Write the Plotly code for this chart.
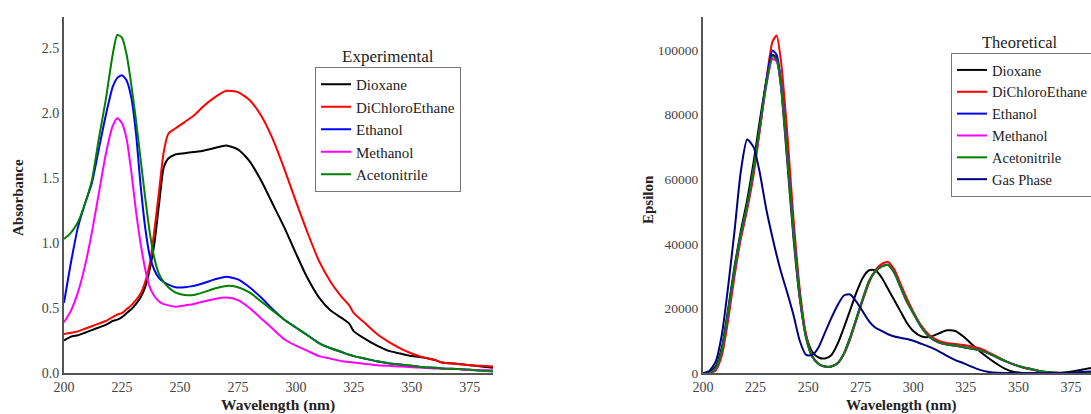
import plotly.graph_objects as go
from plotly.subplots import make_subplots

# ---------------- Experimental (left) ----------------
wl_exp = [200, 203, 206, 209, 212, 215, 218, 221, 223, 225, 227, 229, 231, 233, 235, 237, 239, 241, 243, 245,
          248, 252, 256, 260, 265, 270, 275, 280, 285, 290, 295, 300, 305, 310, 315, 320, 323, 325, 330, 335,
          340, 345, 350, 355, 360, 363, 370, 375, 380, 385]

exp_dioxane = [0.25, 0.28, 0.29, 0.31, 0.33, 0.35, 0.37, 0.40, 0.41, 0.43, 0.46, 0.49, 0.53, 0.58, 0.66, 0.80, 1.00, 1.30, 1.58, 1.65,
               1.68, 1.69, 1.70, 1.71, 1.73, 1.75, 1.72, 1.63, 1.48, 1.30, 1.12, 0.92, 0.73, 0.58, 0.48, 0.42, 0.38, 0.32, 0.26, 0.21,
               0.17, 0.15, 0.13, 0.12, 0.10, 0.08, 0.07, 0.06, 0.05, 0.04]
exp_dce = [0.30, 0.31, 0.32, 0.34, 0.36, 0.38, 0.40, 0.43, 0.45, 0.46, 0.49, 0.52, 0.56, 0.61, 0.70, 0.84, 1.10, 1.40, 1.70, 1.84,
           1.88, 1.93, 1.98, 2.05, 2.12, 2.17, 2.16, 2.10, 1.98, 1.80, 1.57, 1.32, 1.08, 0.86, 0.70, 0.58, 0.52, 0.46, 0.38, 0.30,
           0.24, 0.19, 0.15, 0.12, 0.10, 0.08, 0.07, 0.06, 0.055, 0.05]
exp_ethanol = [0.54, 0.85, 1.12, 1.30, 1.46, 1.72, 1.98, 2.20, 2.27, 2.29, 2.25, 2.12, 1.85, 1.45, 1.12, 0.90, 0.79, 0.73, 0.70, 0.68,
               0.66, 0.66, 0.67, 0.69, 0.72, 0.74, 0.72, 0.66, 0.58, 0.49, 0.41, 0.35, 0.29, 0.23, 0.19, 0.16, 0.14, 0.13, 0.11, 0.09,
               0.075, 0.065, 0.055, 0.045, 0.04, 0.035, 0.03, 0.025, 0.02, 0.018]
exp_methanol = [0.39, 0.48, 0.62, 0.82, 1.08, 1.38, 1.68, 1.90, 1.96, 1.92, 1.80, 1.55, 1.25, 1.00, 0.80, 0.66, 0.59, 0.55, 0.53, 0.52,
                0.51, 0.52, 0.53, 0.55, 0.57, 0.58, 0.56, 0.50, 0.42, 0.34, 0.26, 0.21, 0.17, 0.13, 0.11, 0.09, 0.085, 0.08, 0.07, 0.06,
                0.055, 0.05, 0.045, 0.04, 0.035, 0.033, 0.03, 0.025, 0.022, 0.02]
exp_acetonitrile = [1.03, 1.08, 1.16, 1.30, 1.48, 1.80, 2.10, 2.45, 2.60, 2.58, 2.45, 2.22, 1.95, 1.65, 1.35, 1.08, 0.88, 0.76, 0.70, 0.66,
                    0.62, 0.60, 0.60, 0.62, 0.65, 0.67, 0.66, 0.62, 0.55, 0.48, 0.41, 0.35, 0.29, 0.23, 0.19, 0.16, 0.14, 0.13, 0.11, 0.09,
                    0.075, 0.065, 0.055, 0.045, 0.04, 0.035, 0.03, 0.025, 0.018, 0.012]

# ---------------- Theoretical (right) ----------------
wl_th = [200, 203, 206, 209, 212, 215, 218, 221, 224, 227, 230, 233, 235, 237, 240, 243, 246, 249, 252, 255,
         258, 261, 264, 267, 270, 273, 276, 279, 282, 285, 288, 291, 294, 297, 300, 304, 308, 312, 316, 320,
         324, 328, 332, 336, 340, 344, 348, 352, 356, 360, 365, 370, 375, 380, 385]

th_dioxane = [0, 200, 2000, 8000, 20000, 33000, 44000, 53500, 65000, 78000, 90000, 98500, 97500, 89000, 66000, 42000, 23000, 11500, 6500, 4800,
              4500, 5500, 9000, 14000, 19500, 25000, 29500, 31800, 31800, 29500, 26000, 22500, 19000, 15500, 13000, 11300, 11200, 12200, 13200, 13000,
              11200, 8800, 6500, 4500, 2700, 1200, 300, 0, 0, 0, 0, 100, 400, 1000, 1600]
th_dce = [0, 0, 800, 5500, 16500, 30000, 41500, 50500, 61000, 75000, 90000, 102500, 104500, 97000, 75000, 48000, 26000, 12000, 5200, 2800,
          2000, 2000, 3000, 5800, 10500, 16500, 22500, 28000, 31800, 33800, 34400, 32000, 27500, 23000, 19000, 14500, 11500, 10000, 9300, 9000,
          8700, 8200, 7500, 6300, 5000, 3700, 2600, 1700, 1100, 500, 150, 0, 0, 0, 0]
th_ethanol = [0, 0, 1200, 6800, 18500, 31500, 42500, 51500, 62500, 76000, 90000, 99800, 98500, 91000, 69000, 45000, 24500, 11000, 5000, 2800,
              2000, 2000, 3000, 6000, 11000, 17000, 23000, 28500, 31500, 33000, 33500, 31000, 26500, 22000, 18500, 14000, 11000, 9500, 8800, 8500,
              8000, 7500, 7000, 6000, 4800, 3600, 2600, 1800, 1200, 600, 200, 0, 0, 0, 0]
th_methanol = [0, 0, 1200, 6800, 18500, 31500, 42500, 51500, 62500, 75500, 88500, 97200, 96500, 89500, 68000, 44000, 24000, 11000, 5000, 2800,
               2000, 2000, 3000, 6000, 11000, 17000, 23000, 28500, 31500, 33000, 33500, 31000, 26500, 22000, 18500, 14000, 11000, 9500, 8800, 8500,
               8000, 7500, 7000, 6000, 4800, 3600, 2600, 1800, 1200, 600, 200, 0, 0, 0, 0]
th_acetonitrile = [0, 0, 1500, 7000, 19000, 32000, 43000, 52000, 63000, 76000, 89000, 98000, 97000, 90000, 68000, 44000, 24000, 11000, 5000, 2800,
                   2000, 2000, 3000, 6000, 11000, 17000, 23000, 28500, 31500, 33000, 33500, 31000, 26500, 22000, 18500, 14000, 11000, 9500, 8800, 8500,
                   8000, 7500, 7000, 6000, 4800, 3600, 2600, 1800, 1200, 600, 200, 0, 0, 0, 0]
th_gas = [0, 600, 3500, 12000, 27000, 44000, 62500, 72300, 70000, 62000, 51000, 42000, 36500, 31500, 25000, 18000, 10000, 5600, 5600, 8000,
          12500, 17000, 21000, 24000, 24300, 22000, 19000, 16000, 14000, 13000, 12000, 11300, 10900, 10500, 10000, 9000, 8000, 6800, 5300, 4000,
          3000, 1900, 900, 300, 50, 0, 0, 0, 0, 0, 0, 0, 100, 300, 500]

exp_names = ["Dioxane", "DiChloroEthane", "Ethanol", "Methanol", "Acetonitrile"]
exp_series = [exp_dioxane, exp_dce, exp_ethanol, exp_methanol, exp_acetonitrile]
th_names = ["Dioxane", "DiChloroEthane", "Ethanol", "Methanol", "Acetonitrile", "Gas Phase"]
th_series = [th_dioxane, th_dce, th_ethanol, th_methanol, th_acetonitrile, th_gas]
colors = ["#000000", "#ff0000", "#0000ff", "#ff00ff", "#008000", "#000080"]

FONT = "Liberation Serif, Times New Roman, serif"

fig = make_subplots(rows=1, cols=2)
for name, ys, c in zip(exp_names, exp_series, colors):
    fig.add_trace(go.Scatter(x=wl_exp, y=ys, name=name, mode="lines",
                             line=dict(color=c, width=2, shape="spline", smoothing=0.6),
                             legend="legend"), row=1, col=1)
for name, ys, c in zip(th_names, th_series, colors):
    fig.add_trace(go.Scatter(x=wl_th, y=ys, name=name, mode="lines",
                             line=dict(color=c, width=2, shape="spline", smoothing=0.6),
                             legend="legend2"), row=1, col=2)

W, H = 1091, 414
ML, MR, MT, MB = 64, 0, 17, 41
pw = W - ML - MR
ph = H - MT - MB

def px(x):
    return (x - ML) / pw

def py(y):
    return (H - MB - y) / ph

axis_common = dict(showgrid=False, zeroline=False, showline=True, linecolor="#555555", linewidth=2,
                   ticks="", tickfont=dict(family=FONT, size=14, color="#444444"), automargin=False)

fig.update_layout(
    width=W, height=H,
    margin=dict(l=ML, r=MR, t=MT, b=MB, autoexpand=False),
    paper_bgcolor="white", plot_bgcolor="white",
    font=dict(family=FONT),
    xaxis=dict(domain=[0, px(493)], range=[200, 385], tickvals=[200, 225, 250, 275, 300, 325, 350, 375], **axis_common),
    yaxis=dict(range=[0, 2.738], tickvals=[0, 0.5, 1.0, 1.5, 2.0, 2.5], tickformat=".1f", **axis_common),
    xaxis2=dict(domain=[px(703), 1.0], range=[200, 384.5], tickvals=[200, 225, 250, 275, 300, 325, 350, 375], **axis_common),
    yaxis2=dict(range=[0, 110200], tickvals=[0, 20000, 40000, 60000, 80000, 100000], tickformat="d", **axis_common),
    legend=dict(x=px(315), y=py(67), xanchor="left", yanchor="top", bgcolor="white",
                bordercolor="#777777", borderwidth=1, font=dict(family=FONT, size=15, color="#222222")),
    legend2=dict(x=px(951), y=py(53), xanchor="left", yanchor="top", bgcolor="white",
                 bordercolor="#777777", borderwidth=1, font=dict(family=FONT, size=14.5, color="#222222")),
    showlegend=True,
)
fig.update_yaxes(tickfont=dict(size=13.5), row=1, col=2)

ann = [
    dict(text="Experimental", x=px(388), y=py(56), size=17, bold=False, angle=0),
    dict(text="Theoretical", x=px(1020), y=py(43), size=16.5, bold=False, angle=0),
    dict(text="Absorbance", x=px(18), y=py(198), size=15, bold=True, angle=-90),
    dict(text="Epsilon", x=px(648), y=py(200), size=15, bold=True, angle=-90),
    dict(text="Wavelength (nm)", x=px(278), y=py(405), size=15.5, bold=True, angle=0),
    dict(text="Wavelength (nm)", x=px(901), y=py(405), size=15, bold=True, angle=0),
]
for a in ann:
    fig.add_annotation(text=("<b>%s</b>" % a["text"]) if a["bold"] else a["text"],
                       x=a["x"], y=a["y"], xref="paper", yref="paper",
                       xanchor="center", yanchor="middle", showarrow=False, textangle=a["angle"],
                       font=dict(family=FONT, size=a["size"], color="#222222"))

fig.write_html("out.html")
